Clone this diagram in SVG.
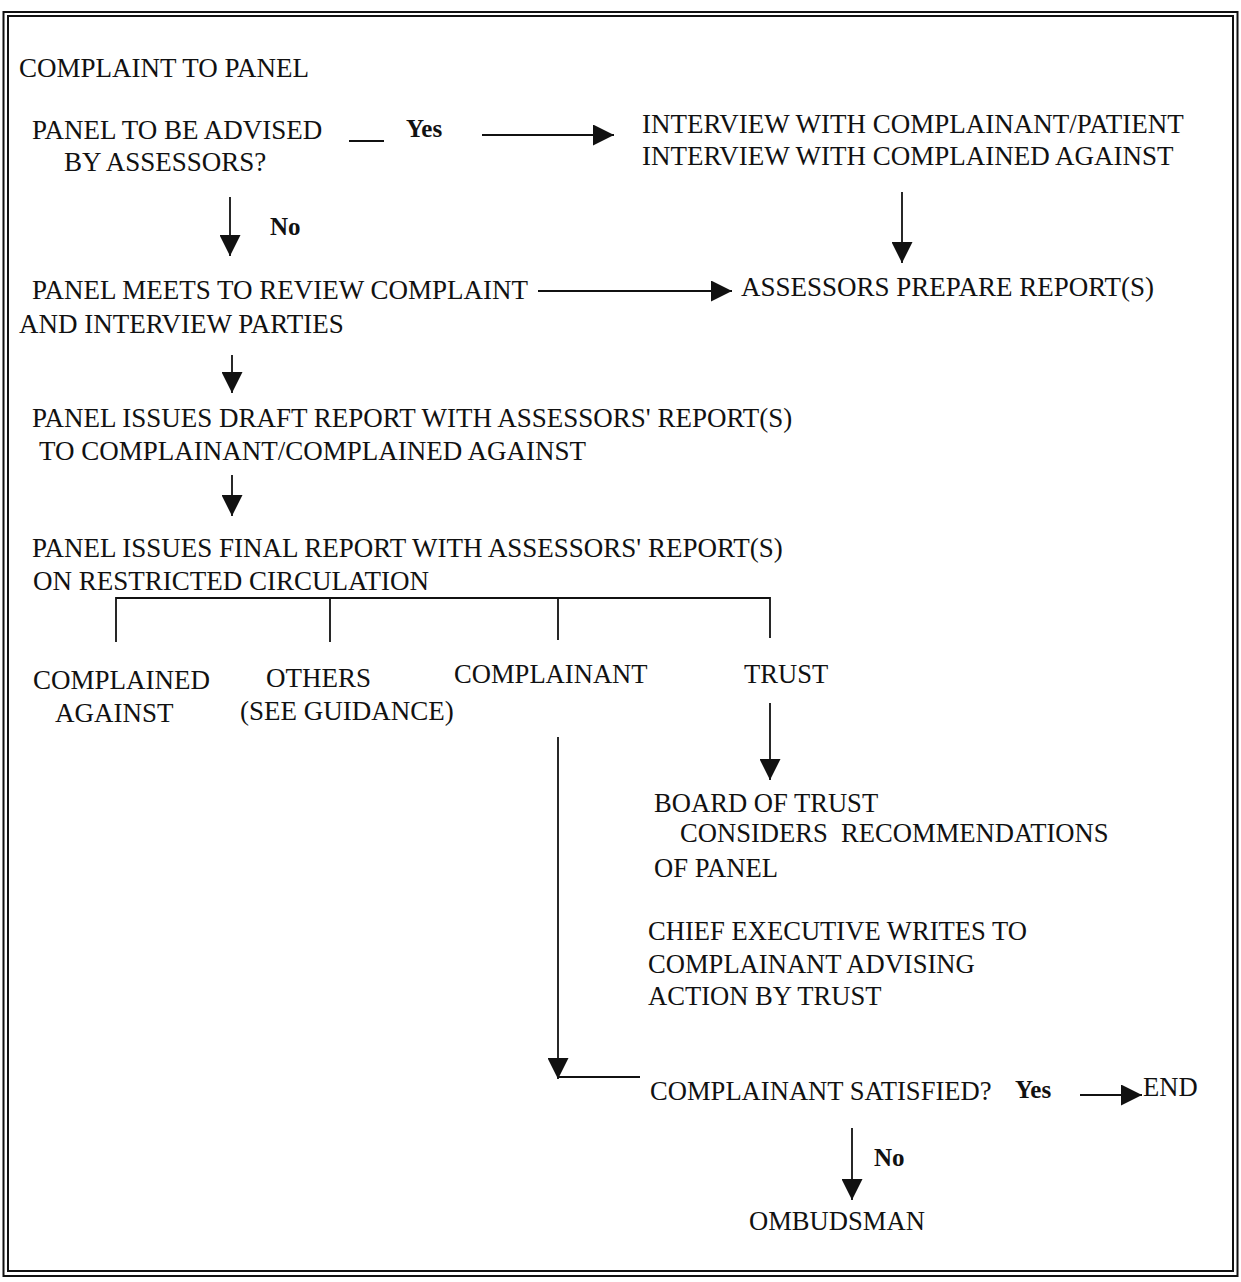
<svg xmlns="http://www.w3.org/2000/svg" width="1241" height="1282" viewBox="0 0 1241 1282">
<style>
text{font-family:"Liberation Serif","Times New Roman",serif;font-size:27px;fill:#111}
.s{font-size:26.6px}
.b{font-weight:bold;font-size:25px}
.ln{stroke:#111;stroke-width:1.8;fill:none}
.frame{stroke:#111;stroke-width:2;fill:none}
</style>
<defs>
<marker id="ah" viewBox="0 0 20 20" refX="20" refY="10" markerWidth="21" markerHeight="21" markerUnits="userSpaceOnUse" orient="auto">
<path d="M0,0 L20,10 L0,20 Z" fill="#111"/>
</marker>
</defs>
<rect width="1241" height="1282" fill="#fff"/>
<g id="frame">
<rect class="frame" x="3.5" y="12" width="1234" height="1264"/>
<rect class="frame" x="8" y="16" width="1225" height="1255"/>
</g>
<g id="connectors">
<line class="ln" x1="349" y1="141" x2="384" y2="141"/>
<line class="ln" x1="482" y1="135" x2="614" y2="135" marker-end="url(#ah)"/>
<line class="ln" x1="230" y1="197" x2="230" y2="256" marker-end="url(#ah)"/>
<line class="ln" x1="902" y1="192" x2="902" y2="263" marker-end="url(#ah)"/>
<line class="ln" x1="538" y1="291" x2="732" y2="291" marker-end="url(#ah)"/>
<line class="ln" x1="232" y1="355" x2="232" y2="393" marker-end="url(#ah)"/>
<line class="ln" x1="232" y1="475" x2="232" y2="516" marker-end="url(#ah)"/>
<path class="ln" d="M116,642 V598 H770 V638 M330,598 V642 M558,598 V640"/>
<line class="ln" x1="770" y1="703" x2="770" y2="780" marker-end="url(#ah)"/>
<line class="ln" x1="558" y1="737" x2="558" y2="1079" marker-end="url(#ah)"/>
<line class="ln" x1="558" y1="1077" x2="640" y2="1077"/>
<line class="ln" x1="1080" y1="1095" x2="1142" y2="1095" marker-end="url(#ah)"/>
<line class="ln" x1="852" y1="1128" x2="852" y2="1200" marker-end="url(#ah)"/>
</g>
<g id="n1"><text x="19" y="77">COMPLAINT TO PANEL</text></g>
<g id="n2"><text x="32" y="139">PANEL TO BE ADVISED</text><text x="64" y="171">BY ASSESSORS?</text></g>
<g id="l-yes1"><text class="b" x="406" y="137">Yes</text></g>
<g id="n3"><text x="642" y="133">INTERVIEW WITH COMPLAINANT/PATIENT</text><text x="642" y="165">INTERVIEW WITH COMPLAINED AGAINST</text></g>
<g id="l-no1"><text class="b" x="270" y="235">No</text></g>
<g id="n4"><text x="32" y="299">PANEL MEETS TO REVIEW COMPLAINT</text><text x="19" y="333">AND INTERVIEW PARTIES</text></g>
<g id="n5"><text x="741" y="296">ASSESSORS PREPARE REPORT(S)</text></g>
<g id="n6"><text x="32" y="427">PANEL ISSUES DRAFT REPORT WITH ASSESSORS' REPORT(S)</text><text x="39" y="460">TO COMPLAINANT/COMPLAINED AGAINST</text></g>
<g id="n7"><text x="32" y="557">PANEL ISSUES FINAL REPORT WITH ASSESSORS' REPORT(S)</text><text x="33" y="590">ON RESTRICTED CIRCULATION</text></g>
<g id="n8"><text x="33" y="689">COMPLAINED</text><text x="55" y="722">AGAINST</text></g>
<g id="n9"><text x="266" y="687">OTHERS</text><text x="240" y="720">(SEE GUIDANCE)</text></g>
<g id="n10"><text class="s" x="454" y="683">COMPLAINANT</text></g>
<g id="n11"><text class="s" x="744" y="683">TRUST</text></g>
<g id="n12"><text class="s" x="654" y="812">BOARD OF TRUST</text><text class="s" x="680" y="842" xml:space="preserve">CONSIDERS  RECOMMENDATIONS</text><text class="s" x="654" y="877">OF PANEL</text></g>
<g id="n13"><text class="s" x="648" y="940">CHIEF EXECUTIVE WRITES TO</text><text class="s" x="648" y="973">COMPLAINANT ADVISING</text><text class="s" x="648" y="1005">ACTION BY TRUST</text></g>
<g id="n14"><text class="s" x="650" y="1100">COMPLAINANT SATISFIED?</text></g>
<g id="l-yes2"><text class="b" x="1015" y="1098">Yes</text></g>
<g id="n15"><text class="s" x="1143" y="1096">END</text></g>
<g id="l-no2"><text class="b" x="874" y="1166">No</text></g>
<g id="n16"><text class="s" x="749" y="1230">OMBUDSMAN</text></g>
</svg>
